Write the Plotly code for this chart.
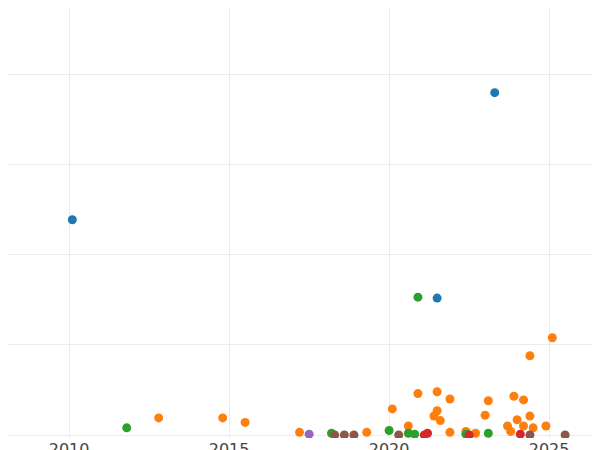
import plotly.graph_objects as go

blue_x = [2010.1, 2023.3, 2021.5]
blue_y = [2.39, 3.80, 1.52]
orange_x = [2012.8, 2014.8, 2015.5, 2017.2, 2019.3, 2020.1, 2020.6, 2020.9, 2021.4, 2021.5, 2021.5, 2021.6,
            2021.9, 2021.9, 2022.4, 2022.7, 2023.0, 2023.1, 2023.7, 2023.8, 2023.9, 2024.0, 2024.2, 2024.2,
            2024.4, 2024.5, 2024.4, 2024.9, 2025.1]
orange_y = [0.19, 0.19, 0.14, 0.03, 0.03, 0.29, 0.10, 0.46, 0.21, 0.27, 0.48, 0.16,
            0.03, 0.40, 0.04, 0.02, 0.22, 0.38, 0.10, 0.04, 0.43, 0.17, 0.10, 0.39,
            0.21, 0.08, 0.88, 0.10, 1.08]
green_x = [2011.8, 2020.9, 2018.2, 2020.0, 2020.6, 2020.8, 2022.4, 2023.1]
green_y = [0.08, 1.53, 0.02, 0.05, 0.02, 0.01, 0.01, 0.02]
red_x = [2021.1, 2021.2, 2022.5, 2024.1]
red_y = [0.00, 0.02, 0.00, 0.01]
purple_x = [2017.5]
purple_y = [0.01]
brown_x = [2018.3, 2018.6, 2018.9, 2020.3, 2024.4, 2025.5]
brown_y = [0.00, 0.00, 0.00, 0.00, 0.00, 0.00]

series = [(blue_x, blue_y, '#1f77b4'), (orange_x, orange_y, '#ff7f0e'), (green_x, green_y, '#2ca02c'),
          (red_x, red_y, '#d62728'), (purple_x, purple_y, '#9467bd'), (brown_x, brown_y, '#8c564b')]

fig = go.Figure()
for xs, ys, c in series:
    fig.add_trace(go.Scatter(x=xs, y=ys, mode='markers', marker=dict(color=c, size=9), showlegend=False))

fig.update_layout(
    width=600, height=450, plot_bgcolor='white', paper_bgcolor='white',
    font=dict(family='DejaVu Sans'),
    margin=dict(l=0, r=0, t=0, b=20, pad=0, autoexpand=False),
    xaxis=dict(range=[2008.09, 2026.84], tickvals=[2010, 2015, 2020, 2025], showgrid=True,
               gridcolor='#ebebeb', zeroline=False, showline=False, ticks='',
               tickfont=dict(size=16, color='#444'), automargin=False),
    yaxis=dict(range=[-0.033, 4.74], tickvals=[0, 1, 2, 3, 4], showticklabels=False,
               gridcolor='#ebebeb', zeroline=False, automargin=False),
)
fig.write_html("out.html")
